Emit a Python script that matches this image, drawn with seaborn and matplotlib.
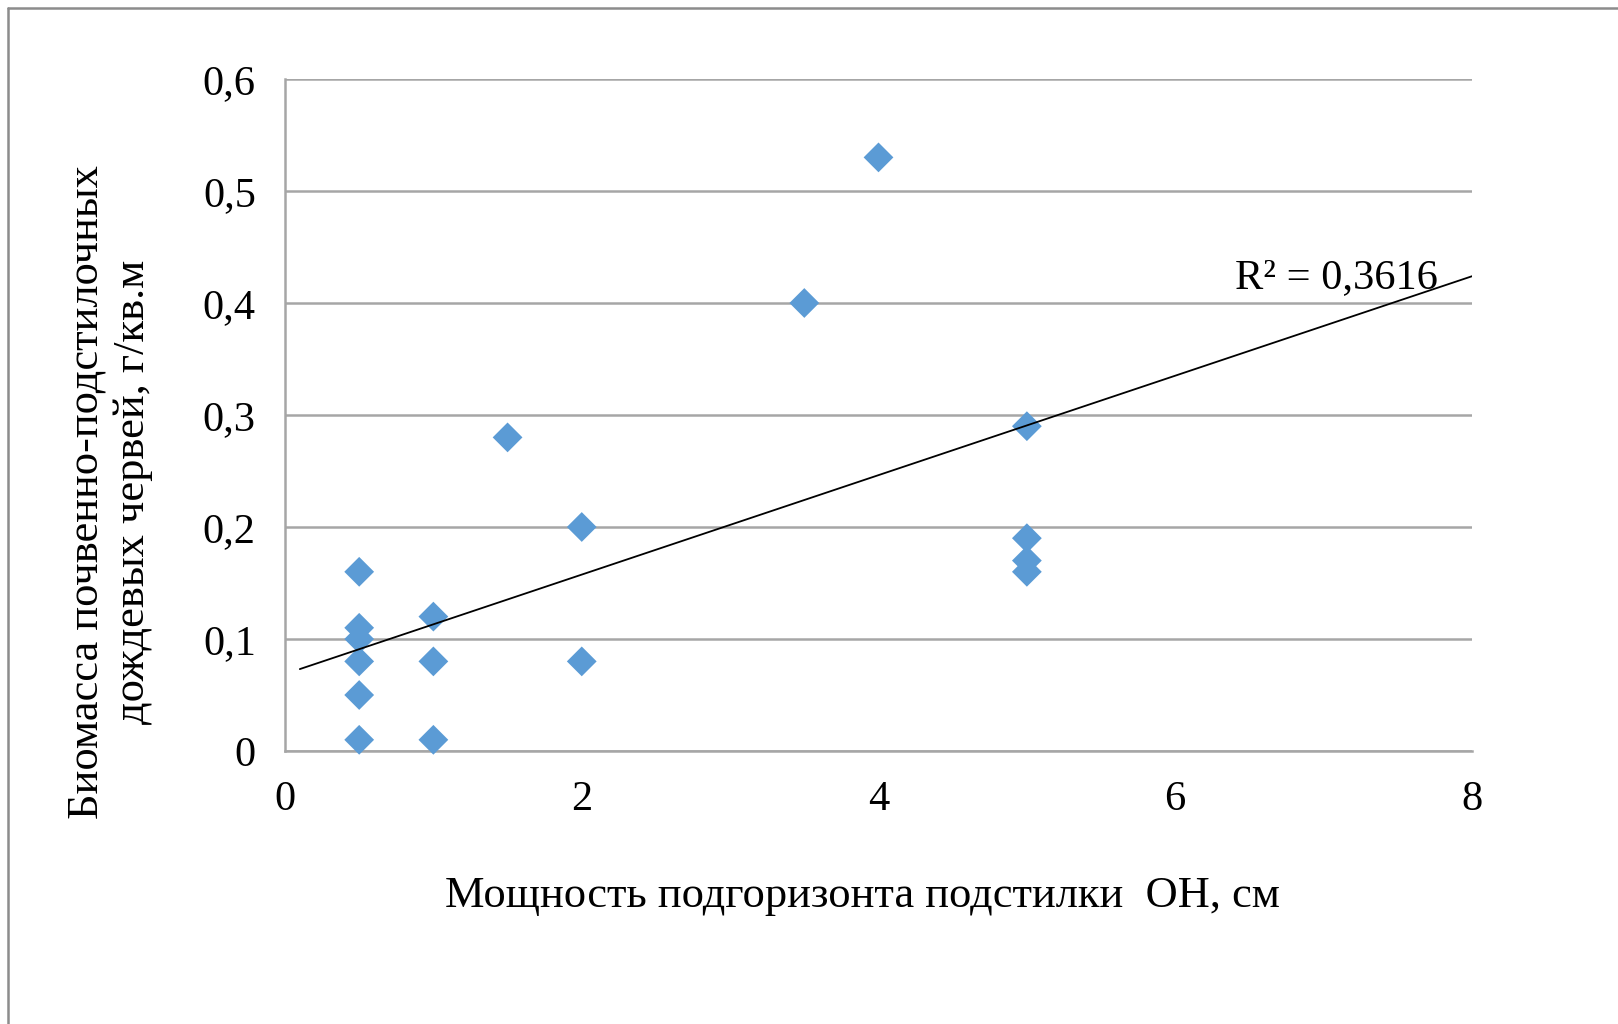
import matplotlib
matplotlib.use("Agg")
import matplotlib.pyplot as plt
import seaborn as sns
import numpy as np
import pandas as pd
from matplotlib.lines import Line2D

# ---- data ----
thickness_cm = [0.5, 0.5, 0.5, 0.5, 0.5, 0.5, 1, 1, 1, 1.5, 2, 2, 3.5, 4, 5, 5, 5, 5]
biomass = [0.16, 0.11, 0.10, 0.08, 0.05, 0.01, 0.12, 0.08, 0.01, 0.28, 0.20, 0.08,
           0.40, 0.53, 0.29, 0.19, 0.17, 0.16]
trend_x = [0.1, 8.0]                 # extent of the trend line
trend_slope = 0.0444
trend_intercept = 0.0687
r2_label = "R² = 0,3616"
x_ticks = [0, 2, 4, 6, 8]
y_ticks = [0, 0.1, 0.2, 0.3, 0.4, 0.5, 0.6]
y_tick_labels = ["0", "0,1", "0,2", "0,3", "0,4", "0,5", "0,6"]
x_label = "Мощность подгоризонта подстилки  ОН, см"
y_label = "Биомасса почвенно-подстилочных\nдождевых червей, г/кв.м"

df = pd.DataFrame({"x": thickness_cm, "y": biomass})

sns.set_theme(style="white")
plt.rcParams["font.family"] = ["Liberation Serif", "DejaVu Serif"]
plt.rcParams["text.color"] = "black"

W, H = 1618, 1024
fig = plt.figure(figsize=(W / 100, H / 100), dpi=100)
fig.patch.set_facecolor("white")

ax = fig.add_axes([285 / W, 1 - 751 / H, (1472 - 285) / W, (751 - 79) / H])

grid_col = "#a6a6a6"
ax.set_xlim(0, 8)
ax.set_ylim(0, 0.6)
ax.set_yticks(y_ticks)
ax.set_yticklabels(y_tick_labels)
ax.set_xticks(x_ticks)
ax.set_xticklabels([str(t) for t in x_ticks])
ax.yaxis.grid(True, color=grid_col, linewidth=1.8)
ax.xaxis.grid(False)
ax.set_axisbelow(True)
for s in ["top", "right"]:
    ax.spines[s].set_visible(False)
for s in ["left", "bottom"]:
    ax.spines[s].set_color(grid_col)
    ax.spines[s].set_linewidth(1.8)
ax.tick_params(axis="both", which="major", direction="out", length=9,
               width=1.8, color=grid_col, labelsize=30.5, labelcolor="black")
ax.tick_params(axis="y", pad=12)
ax.tick_params(axis="x", pad=12)

sns.scatterplot(data=df, x="x", y="y", marker="D", s=230, color="#5b9bd5",
                edgecolor="none", linewidth=0, ax=ax, zorder=3, clip_on=False)

tx = np.array(trend_x)
ax.plot(tx, trend_intercept + trend_slope * tx, color="black", linewidth=1.3, zorder=4)
ax.text(6.40, 0.4226, r2_label, fontsize=30.5, va="center", ha="left", color="black", zorder=5)

ax.set_xlabel("")
ax.set_ylabel("")
fig.text(862 / W, 1 - 896 / H, x_label, fontsize=32, ha="center", va="center", color="black")
fig.text(110 / W, 1 - 492 / H, y_label, fontsize=32, ha="center", va="center",
         rotation=90, multialignment="center", linespacing=1.2, color="black")

# outer chart-area border (runs off the right and bottom edges)
fig.add_artist(Line2D([8 / W, 1.02], [1 - 8 / H, 1 - 8 / H], transform=fig.transFigure,
                      color="#8c8c8c", linewidth=1.8))
fig.add_artist(Line2D([8 / W, 8 / W], [1 - 8 / H, -0.02], transform=fig.transFigure,
                      color="#8c8c8c", linewidth=1.8))

fig.savefig("out.png", dpi=100, facecolor="white")
